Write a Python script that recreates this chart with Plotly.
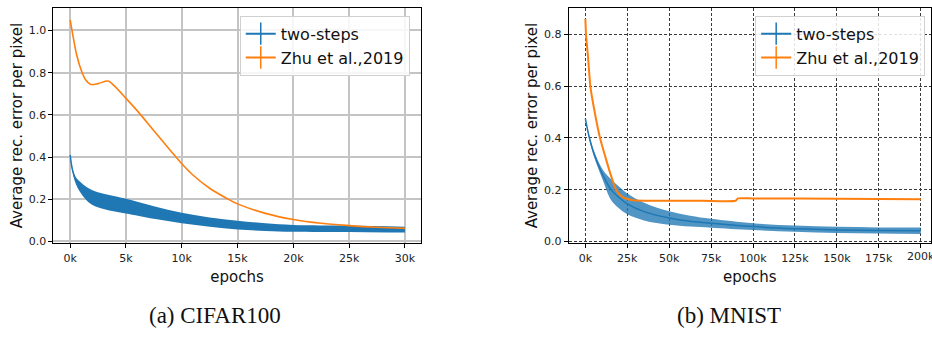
import plotly.graph_objects as go

BLUE = "#1f77b4"
ORANGE = "#ff7f0e"

# ---------------- CIFAR100 data ----------------
cifar_two_x = [0, 200, 500, 900, 1500, 2000, 3000, 4000, 5000, 7500, 10000, 12500, 15000, 17500, 20000, 25000, 30000]
cifar_two_y = [0.41, 0.34, 0.29, 0.258, 0.225, 0.208, 0.19, 0.178, 0.167, 0.137, 0.111, 0.092, 0.077, 0.068, 0.062, 0.060, 0.056]
cifar_two_e = [0.0, 0.008, 0.016, 0.025, 0.032, 0.035, 0.036, 0.036, 0.035, 0.030, 0.025, 0.022, 0.021, 0.018, 0.016, 0.015, 0.014]

cifar_zhu_x = [0, 300, 600, 1000, 1400, 1800, 2500, 3400, 4000, 5000, 6000, 7500, 9000, 10000, 11000, 12500, 14000, 15000, 17500, 20000, 22500, 25000, 27500, 30000]
cifar_zhu_y = [1.05, 0.96, 0.88, 0.81, 0.765, 0.745, 0.748, 0.76, 0.735, 0.678, 0.62, 0.525, 0.43, 0.368, 0.315, 0.252, 0.205, 0.178, 0.133, 0.104, 0.086, 0.075, 0.067, 0.062]

# ---------------- MNIST data ----------------
mnist_two_x = [0, 2400, 5400, 10300, 15300, 20000, 25000, 35000, 50000, 62500, 75000, 100000, 125000, 150000, 175000, 200000]
mnist_two_y = [0.475, 0.40, 0.334, 0.258, 0.20, 0.17, 0.145, 0.115, 0.090, 0.078, 0.070, 0.057, 0.049, 0.044, 0.042, 0.041]
mnist_two_e = [0.0, 0.008, 0.012, 0.02, 0.04, 0.042, 0.04, 0.034, 0.026, 0.021, 0.017, 0.013, 0.012, 0.012, 0.012, 0.013]

mnist_zhu_x = [0, 400, 1500, 2980, 5000, 8740, 12000, 15000, 18270, 22000, 27200, 30000, 50000, 70000, 89500, 91000, 100000, 150000, 200000]
mnist_zhu_y = [0.86, 0.80, 0.72, 0.60, 0.52, 0.40, 0.325, 0.26, 0.20, 0.172, 0.160, 0.158, 0.157, 0.157, 0.157, 0.166, 0.166, 0.165, 0.163]

cifar_xticks = [0, 5000, 10000, 15000, 20000, 25000, 30000]
cifar_xtext = ["0k", "5k", "10k", "15k", "20k", "25k", "30k"]
mnist_xticks = [0, 25000, 50000, 75000, 100000, 125000, 150000, 175000, 200000]
mnist_xtext = ["0k", "25k", "50k", "75k", "100k", "125k", "150k", "175k", "200k"]
cifar_yticks = [0.0, 0.2, 0.4, 0.6, 0.8, 1.0]
mnist_yticks = [0.0, 0.2, 0.4, 0.6, 0.8]

series_names = ["two-steps", "Zhu et al.,2019"]
captions = ["(a) CIFAR100", "(b) MNIST"]

W, H = 932, 337
FONT = "DejaVu Sans"

fig = go.Figure()


def add_band(x, y, e, xa, ya, fillcolor):
    up = [a + b for a, b in zip(y, e)]
    lo = [a - b for a, b in zip(y, e)]
    fig.add_trace(go.Scatter(x=x, y=up, mode="lines", line=dict(width=0, color=BLUE, shape="spline"),
                             xaxis=xa, yaxis=ya, showlegend=False, hoverinfo="skip"))
    fig.add_trace(go.Scatter(x=x, y=lo, mode="lines", line=dict(width=0, color=BLUE, shape="spline"),
                             fill="tonexty", fillcolor=fillcolor,
                             xaxis=xa, yaxis=ya, showlegend=False, hoverinfo="skip"))


# CIFAR panel
add_band(cifar_two_x, cifar_two_y, cifar_two_e, "x", "y", BLUE)
fig.add_trace(go.Scatter(x=cifar_two_x, y=cifar_two_y, mode="lines", line=dict(color=BLUE, width=1.5, shape="spline"),
                         xaxis="x", yaxis="y", showlegend=False))
fig.add_trace(go.Scatter(x=cifar_zhu_x, y=cifar_zhu_y, mode="lines", line=dict(color=ORANGE, width=1.6, shape="spline"),
                         xaxis="x", yaxis="y", showlegend=False))

# MNIST panel
add_band(mnist_two_x, mnist_two_y, mnist_two_e, "x2", "y2", "rgba(31,119,180,0.78)")
fig.add_trace(go.Scatter(x=mnist_two_x, y=mnist_two_y, mode="lines", line=dict(color=BLUE, width=1.5, shape="spline"),
                         xaxis="x2", yaxis="y2", showlegend=False))
fig.add_trace(go.Scatter(x=mnist_zhu_x, y=mnist_zhu_y, mode="lines", line=dict(color=ORANGE, width=2, shape="spline", smoothing=0.6),
                         xaxis="x2", yaxis="y2", showlegend=False))

# legend-only entries (line with vertical error bar glyph)
for leg, xa, ya in [("legend", "x", "y"), ("legend2", "x2", "y2")]:
    for name, col in zip(series_names, [BLUE, ORANGE]):
        fig.add_trace(go.Scatter(x=[None], y=[None], mode="lines+markers", name=name,
                                 line=dict(color=col, width=2),
                                 marker=dict(symbol="line-ns", size=16, color=col, line=dict(width=1.5, color=col)),
                                 xaxis=xa, yaxis=ya, legend=leg))

tickfont = dict(family=FONT, size=11, color="#222")
titlefont = dict(family=FONT, size=15, color="#111")

common_x = dict(showline=True, linecolor="black", linewidth=1, mirror=True, ticks="outside", ticklen=4,
                tickcolor="black", tickfont=tickfont, zeroline=False, title=dict(text="epochs", font=titlefont, standoff=7))
common_y = dict(showline=True, linecolor="black", linewidth=1, mirror=True, ticks="outside", ticklen=4,
                tickcolor="black", tickfont=tickfont, zeroline=False, tickformat=".1f",
                title=dict(text="Average rec. error per pixel", font=titlefont, standoff=2))

ydom = [1 - 247 / H, 1 - 8 / H]

legend_common = dict(xanchor="left", yanchor="top", bgcolor="rgba(255,255,255,0.85)",
                     bordercolor="#d0d0d0", borderwidth=1, font=dict(family=FONT, size=16, color="#111"),
                     itemwidth=30, tracegroupgap=0, traceorder="normal")

fig.update_layout(
    width=W, height=H, margin=dict(l=0, r=0, t=0, b=0),
    paper_bgcolor="white", plot_bgcolor="white",
    xaxis=dict(domain=[53.5 / W, 421 / W], range=[-1500, 31400], tickvals=cifar_xticks, ticktext=cifar_xtext,
               showgrid=True, gridcolor="#c4c4c4", gridwidth=1.5, anchor="y", **common_x),
    yaxis=dict(domain=ydom, range=[-0.009, 1.107], tickvals=cifar_yticks,
               showgrid=True, gridcolor="#c4c4c4", gridwidth=1.5, anchor="x", **common_y),
    xaxis2=dict(domain=[569.3 / W, 1.0], range=[-9950, 206136], tickvals=mnist_xticks, ticktext=mnist_xtext,
                showgrid=True, gridcolor="#3a3a3a", gridwidth=1.1, griddash="3px,2px", anchor="y2", **common_x),
    yaxis2=dict(domain=ydom, range=[-0.0077, 0.9033], tickvals=mnist_yticks,
                showgrid=True, gridcolor="#3a3a3a", gridwidth=1.1, griddash="3px,2px", anchor="x2", **common_y),
    legend=dict(x=240 / W, y=1 - 16 / H, **legend_common),
    legend2=dict(x=756 / W, y=1 - 16 / H, **legend_common),
    annotations=[
        dict(text=captions[0], x=215 / W, y=1 - 320 / H, xref="paper", yref="paper", showarrow=False,
             xanchor="center", yanchor="middle", font=dict(family="Liberation Serif", size=23, color="#111")),
        dict(text=captions[1], x=730 / W, y=1 - 320 / H, xref="paper", yref="paper", showarrow=False,
             xanchor="center", yanchor="middle", font=dict(family="Liberation Serif", size=23, color="#111")),
        # last MNIST tick label, partly cut off by the page edge as in the reference
        dict(text=mnist_xtext[-1], x=mnist_xticks[-1], xref="x2", y=1 - 260 / H, yref="paper", showarrow=False,
             xanchor="center", yanchor="middle", font=tickfont),
    ],
)

fig.write_html("out.html")
